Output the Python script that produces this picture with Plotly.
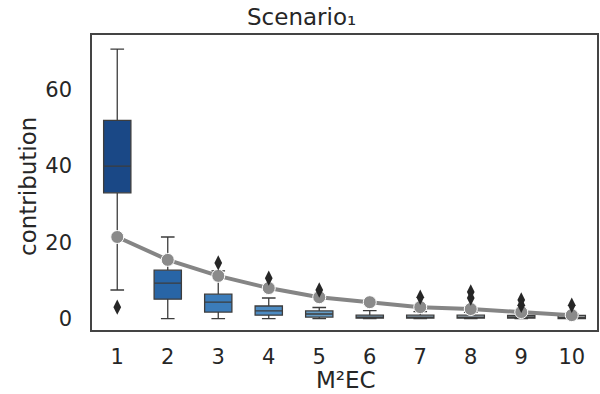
import plotly.graph_objects as go

categories = [1, 2, 3, 4, 5, 6, 7, 8, 9, 10]
q1 = [33.0, 5.1, 1.7, 0.9, 0.4, 0.1, 0.1, 0.1, 0.1, 0.0]
median = [40.0, 9.3, 4.3, 2.0, 1.2, 0.4, 0.4, 0.4, 0.4, 0.3]
q3 = [52.0, 12.7, 6.4, 3.3, 2.0, 0.9, 0.9, 0.9, 0.8, 0.8]
lower = [7.5, 0.0, 0.0, 0.0, 0.0, 0.0, 0.0, 0.0, 0.0, 0.0]
upper = [70.7, 21.4, 12.5, 5.4, 2.9, 2.1, 1.8, 1.6, 1.4, 1.2]
means = [21.4, 15.4, 11.2, 8.0, 5.6, 4.3, 3.0, 2.5, 1.7, 0.9]
outlier_x = [1, 3, 4, 5, 7, 8, 8, 9, 9, 10]
outlier_y = [3.0, 14.6, 10.6, 7.5, 5.6, 7.0, 5.4, 4.9, 3.5, 3.5]
colors = ["#1a4886", "#2865a6", "#3b7cba", "#4d8bc2", "#669cc6", "#83adcd",
          "#a1c1d8", "#bcd1e1", "#d3e0ea", "#ebf0f5"]

fig = go.Figure()
for i, c in enumerate(categories):
    fig.add_trace(go.Box(
        x=[c], q1=[q1[i]], median=[median[i]], q3=[q3[i]],
        lowerfence=[lower[i]], upperfence=[upper[i]],
        width=0.54, whiskerwidth=0.5,
        fillcolor=colors[i], line=dict(color="#3d3d3d", width=1.3),
        boxpoints=False, showlegend=False, hoverinfo="skip",
    ))

fig.add_trace(go.Scatter(
    x=categories, y=means, mode="lines+markers",
    line=dict(color="#858585", width=4),
    marker=dict(color="#8a8a8a", size=13, line=dict(color="white", width=1)),
    showlegend=False,
))
fig.add_trace(go.Scatter(
    x=outlier_x, y=outlier_y, mode="markers",
    marker=dict(symbol="diamond-tall", color="#262626", size=11),
    showlegend=False,
))

font = "DejaVu Sans"
txt = "#262626"
L, R, T, B = 92, 3, 35, 64
W, H = 600, 394
pw, ph = W - L - R, H - T - B


def px(x, y):
    return (x - L) / pw, 1 - (y - T) / ph


ann = []
for text, x, y, size, angle in [("Scenario₁", 301, 17, 23, 0),
                                ("contribution", 28, 187, 23, -90),
                                ("M²EC", 346, 380, 23, 0)]:
    ax, ay = px(x, y)
    ann.append(dict(text=text, x=ax, y=ay, xref="paper", yref="paper",
                    xanchor="center", yanchor="middle", textangle=angle,
                    showarrow=False, font=dict(size=size, family=font, color=txt)))

fig.update_layout(
    width=W, height=H,
    margin=dict(l=L, r=R, t=T, b=B),
    paper_bgcolor="white", plot_bgcolor="white",
    font=dict(family=font, color=txt),
    xaxis=dict(range=[0.5, 10.5], tickvals=categories, ticktext=[str(c) for c in categories],
               showgrid=False, zeroline=False, showline=True, mirror=True,
               linecolor="#444", linewidth=1.5, ticks="", automargin=False,
               ticklabelstandoff=7,
               tickfont=dict(size=21, family=font, color=txt)),
    yaxis=dict(range=[-3.0, 74.4], tickvals=[0, 20, 40, 60],
               showgrid=False, zeroline=False, showline=True, mirror=True,
               linecolor="#444", linewidth=1.5, ticks="", automargin=False,
               ticklabelstandoff=14,
               tickfont=dict(size=21, family=font, color=txt)),
    annotations=ann,
)
fig.write_html("out.html", config={"displayModeBar": False},
               post_script="document.body.style.margin='0px';")
